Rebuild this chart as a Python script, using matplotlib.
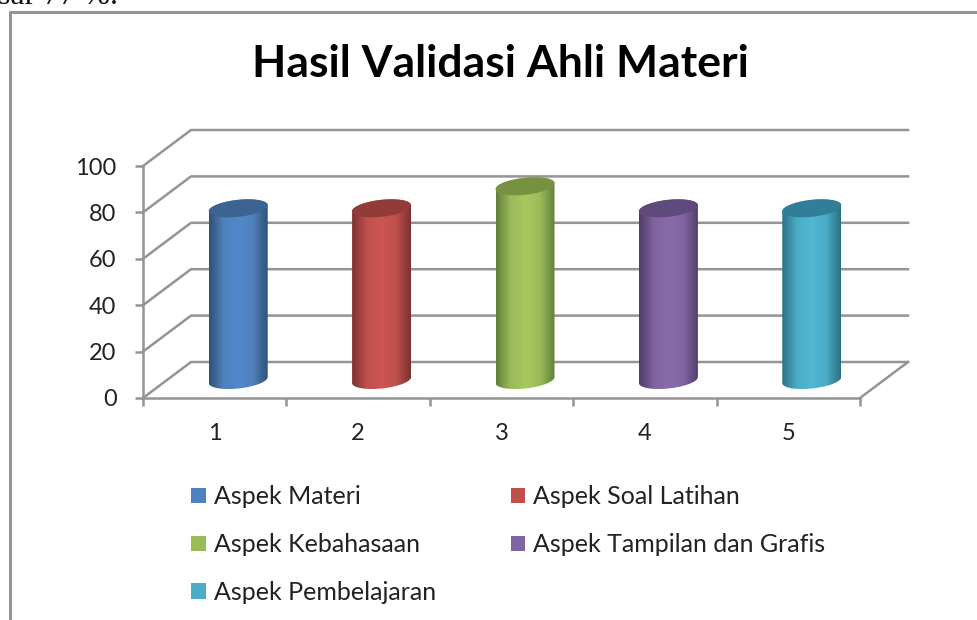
import numpy as np
import matplotlib
matplotlib.use('Agg')
import matplotlib.pyplot as plt
from matplotlib.colors import LinearSegmentedColormap
from matplotlib.patches import Polygon, Rectangle

title = 'Hasil Validasi Ahli Materi'
categories = [1, 2, 3, 4, 5]
series = ['Aspek Materi', 'Aspek Soal Latihan', 'Aspek Kebahasaan',
          'Aspek Tampilan dan Grafis', 'Aspek Pembelajaran']
values = [74, 74, 83.5, 74, 74]
colors = ['#4f81bd', '#c0504d', '#9bbb59', '#8064a2', '#4bacc6']
dark = ['#2f5178', '#7c3230', '#63803a', '#4f3d68', '#2a7086']
light = ['#5288cb', '#cd5552', '#a6c95f', '#896bad', '#50b8d3']
top_col = ['#3c6491', '#933b39', '#76913f', '#5f4a7c', '#317f97']
yticks = [0, 20, 40, 60, 80, 100]

W, H = 977, 620
fig = plt.figure(figsize=(W / 100, H / 100), dpi=100)
plt.rcParams['font.family'] = ['Lato', 'DejaVu Sans']

# axes = front plane of the 3d box
x0, x1, y0, y100 = 143, 860, 398, 166
ax = fig.add_axes([x0 / W, 1 - y0 / H, (x1 - x0) / W, (y0 - y100) / H])
ax.patch.set_alpha(0)
ux = (x1 - x0) / 5
uy = (y0 - y100) / 100
dx, dy = 48 / ux, 36 / uy  # depth of the box in data units
gray = '#949494'

for v in yticks:
    ax.plot([0.5, 0.5 + dx, 5.5 + dx], [v, v + dy, v + dy], color=gray, lw=1.8, clip_on=False, zorder=1)
ax.plot([5.5, 5.5 + dx], [0, dy], color=gray, lw=1.8, clip_on=False, zorder=1)

# cylinders
a = 29.5 / ux
b = 8.5 / uy
tilt = (3 / uy) / a
t = np.linspace(0, 2 * np.pi, 120)
for i, (c, v) in enumerate(zip(categories, values)):
    cx = c + 23.5 / ux
    base = 18 / uy
    ex = a * np.cos(t)
    ey = b * np.sin(t) + tilt * a * np.cos(t)
    low_t = np.linspace(np.pi, 2 * np.pi, 60)
    up_t = np.linspace(0, np.pi, 60)
    px = np.r_[cx + a * np.cos(low_t), cx + a * np.cos(up_t)]
    py = np.r_[base + b * np.sin(low_t) + tilt * a * np.cos(low_t),
               v + base + b * np.sin(up_t) + tilt * a * np.cos(up_t)]
    body = Polygon(np.c_[px, py], closed=True, transform=ax.transData, fc='none', ec='none')
    ax.add_patch(body)
    cmap = LinearSegmentedColormap.from_list('c', [dark[i], colors[i], light[i], colors[i], dark[i]])
    im = ax.imshow(np.linspace(0, 1, 128).reshape(1, -1), cmap=cmap, aspect='auto', zorder=3,
                   extent=[cx - a, cx + a, base - 2 * b, v + base + 2 * b], clip_on=True)
    im.set_clip_path(body)
    ax.fill(cx + ex, v + base + ey, color=top_col[i], zorder=4, clip_on=False, lw=0)

ax.set_xlim(0.5, 5.5)
ax.set_ylim(0, 100)
for s in ['top', 'right']:
    ax.spines[s].set_visible(False)
for s in ['left', 'bottom']:
    ax.spines[s].set_color(gray)
    ax.spines[s].set_linewidth(1.8)
ax.set_yticks(yticks)
ax.set_xticks(np.arange(0.5, 6))
ax.set_xticklabels([])
ax.set_xticks(categories, minor=True)
ax.set_xticklabels(categories, minor=True)
ax.tick_params(axis='x', which='major', color=gray, width=1.8, length=6, direction='out')
ax.tick_params(axis='x', which='minor', length=0, pad=18, labelsize=17, labelcolor='#222222')
ax.tick_params(axis='y', color=gray, width=1.8, length=6, pad=13, labelsize=17, labelcolor='#222222')

handles = [Rectangle((0, 0), 1, 1, fc=col, ec='none') for col in colors]
order = [0, 2, 4, 1, 3]
ax.legend([handles[i] for i in order], [series[i] for i in order], ncol=2, frameon=False,
          loc='upper left', bbox_to_anchor=(191 / W, 1 - 485.5 / H), bbox_transform=fig.transFigure,
          fontsize=18, handlelength=0.58, handleheight=0.58, handletextpad=0.32,
          labelspacing=0.99, columnspacing=3.0, borderpad=0, borderaxespad=0, labelcolor='#222222')

fig.text(500 / W, 1 - 64 / H, title, ha='center', va='center', fontsize=32, fontweight='bold', color='#000000')
fig.text(-2 / W, 1 - 4 / H, 'sar 77 %.', family=['Liberation Serif'], fontsize=23, va='baseline', color='#111111')

# outer chart frame
fig.add_artist(plt.Line2D([9.5 / W, 9.5 / W, 1], [0, 1 - 11.5 / H, 1 - 11.5 / H], color=gray, lw=2.2))

fig.savefig('out.png', dpi=100)
